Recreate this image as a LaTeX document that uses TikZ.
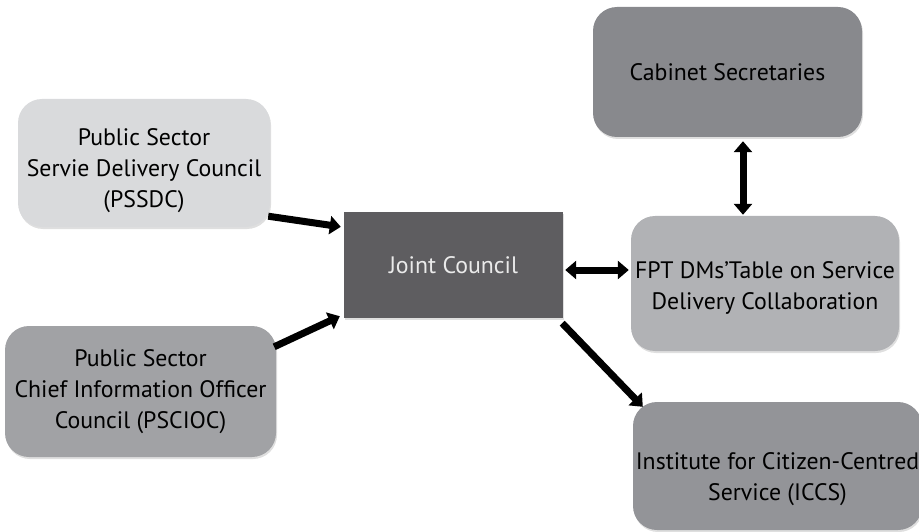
\documentclass[tikz,border=0pt]{standalone}
\usepackage{fontspec}
\setmainfont{PT Sans}
\usetikzlibrary{arrows.meta,calc,shadows}

\definecolor{cabfill}{HTML}{88898D}
\definecolor{pssdcfill}{HTML}{D9DADC}
\definecolor{jointfill}{HTML}{5E5D60}
\definecolor{jointtext}{HTML}{EAEAEA}
\definecolor{fptfill}{HTML}{B1B2B5}
\definecolor{psciocfill}{HTML}{A1A2A5}
\definecolor{iccsfill}{HTML}{939498}

% lower a centred block of lines without changing its box size
\newcommand{\lowered}[2]{\raisebox{-#1}[\height][\depth]{\begin{tabular}{@{}c@{}}#2\end{tabular}}}

\tikzset{
  box/.style={rounded corners=24pt, align=center, inner sep=0pt,
    font=\fontsize{23.8}{31}\selectfont, text=black,
    drop shadow={shadow xshift=1pt, shadow yshift=-2pt, opacity=0.25}},
  link/.style={line width=7pt, black,
    -{Triangle[length=11pt,width=18pt]}},
  biglink/.style={line width=7pt, black,
    {Triangle[length=11pt,width=18pt]}-{Triangle[length=11pt,width=18pt]}}
}

\begin{document}
\begin{tikzpicture}[x=1pt,y=-1pt]
  \useasboundingbox (0,0) rectangle (919,532);
  \clip (0,0) rectangle (919,532);

  % council boxes
  \node[box, fill=cabfill, minimum width=269pt, minimum height=130pt]
    (cab) at (727.5,72) {Cabinet Secretaries};
  \node[box, fill=pssdcfill, minimum width=252pt, minimum height=128pt]
    (pssdc) at (144,163) {\lowered{7pt}{Public Sector\\Servie Delivery Council\\(PSSDC)}};
  \node[box, rounded corners=0pt, fill=jointfill, text=jointtext,
    minimum width=219pt, minimum height=106pt]
    (joint) at (453.5,265) {\lowered{2pt}{Joint Council}};
  \node[box, fill=fptfill, minimum width=268pt, minimum height=135pt]
    (fpt) at (765,283.5) {\lowered{4pt}{FPT DMs’Table on Service\\Delivery Collaboration}};
  \node[box, fill=psciocfill, minimum width=271pt, minimum height=131pt]
    (pscioc) at (140.5,391.5) {Public Sector\\Chief Information Officer\\Council (PSCIOC)};
  \node[box, fill=iccsfill, minimum width=289pt, minimum height=128pt]
    (iccs) at (777.5,466) {\lowered{13pt}{Institute for Citizen-Centred\\Service (ICCS)}};

  % connectors
  \draw[link] ($(pssdc.south east)+(-2,-11)$) -- ($(joint.north west)+(-3,15)$);
  \draw[link] ($(pscioc.north east)+(-2,21)$) -- ($(joint.south west)+(-4,-2)$);
  \draw[biglink] ($(joint.east)+(2,5)$) -- ($(fpt.west)+(-2,-13.5)$);
  \draw[biglink] ($(cab.south)+(15.5,4)$) -- ($(fpt.north)+(-22,-1)$);
  \draw[link] ($(joint.south east)+(-1,5)$) -- ($(iccs.north west)+(10,5)$);
\end{tikzpicture}
\end{document}
